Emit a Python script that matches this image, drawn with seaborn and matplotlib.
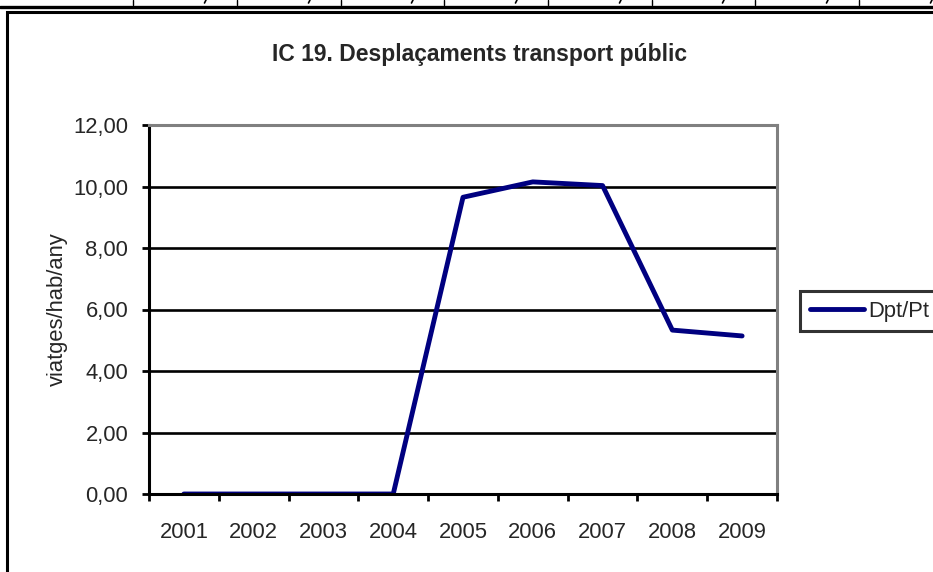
import pandas as pd
import matplotlib
matplotlib.use('Agg')
import matplotlib.pyplot as plt
import seaborn as sns
from matplotlib.ticker import FuncFormatter, FixedLocator
from matplotlib.patches import Rectangle
from matplotlib.lines import Line2D

# ---- data ----
years = ["2001", "2002", "2003", "2004", "2005", "2006", "2007", "2008", "2009"]
dpt_pt = [0.0, 0.0, 0.0, 0.0, 9.65, 10.15, 10.03, 5.33, 5.14]
series_name = "Dpt/Pt"
title = "IC 19. Desplaçaments transport públic"
ylabel = "viatges/hab/any"
yticks = [0, 2, 4, 6, 8, 10, 12]

df = pd.DataFrame({"year": years, "value": dpt_pt, "serie": series_name})

sns.set_style("white")
plt.rcParams['font.family'] = ['Liberation Sans', 'DejaVu Sans']

W, H = 933, 572
fs = 15.8
fig = plt.figure(figsize=(W / 100, H / 100), dpi=100)

# plot area in pixels
left, right, top, bottom = 149, 777, 125, 494
ax = fig.add_axes([left / W, 1 - bottom / H, (right - left) / W, (bottom - top) / H])

navy = "#000080"
sns.lineplot(data=df, x="year", y="value", hue="serie", palette=[navy],
             linewidth=3.5, ax=ax, sort=False, legend=False)

ax.set_xlim(-0.5, len(years) - 0.5)
ax.set_ylim(0, 12)
ax.set_yticks(yticks)
ax.yaxis.set_major_formatter(FuncFormatter(lambda v, p: f"{v:.2f}".replace(".", ",")))
ax.grid(axis="y", color="black", linewidth=1.9)
ax.grid(axis="x", visible=False)

# category ticks between labels, like excel
ax.set_xticks(range(len(years)))
ax.set_xticklabels(years)
ax.xaxis.set_minor_locator(FixedLocator([i - 0.5 for i in range(len(years) + 1)]))
ax.tick_params(axis="x", which="major", length=0, pad=20, labelsize=fs)
ax.tick_params(axis="x", which="minor", length=5, width=2, color="black", direction="out")
ax.tick_params(axis="y", length=5, width=2, color="black", direction="out", pad=10, labelsize=fs)
ax.tick_params(bottom=True, left=True, which="both")

for s in ["left", "bottom"]:
    ax.spines[s].set_color("black")
    ax.spines[s].set_linewidth(2.2)
for s in ["top", "right"]:
    ax.spines[s].set_color("#808080")
    ax.spines[s].set_linewidth(2.2)
ax.spines["bottom"].set_zorder(3)

ax.set_xlabel("")
ax.set_ylabel(ylabel, fontsize=fs, labelpad=4)

fig.text(480 / W, 1 - 55 / H, title, ha="center", va="center",
         fontsize=16.5, fontweight="bold")

# legend
handle = Line2D([], [], color=navy, linewidth=3.5)
leg = fig.legend([handle], [series_name], loc="center left",
                 bbox_to_anchor=(800 / W, 1 - 311 / H), frameon=True,
                 fancybox=False, fontsize=fs, handlelength=2.45,
                 handletextpad=0.2, borderpad=0.45, borderaxespad=0)
leg.get_frame().set_edgecolor("black")
leg.get_frame().set_linewidth(2.2)

# chart frame and spreadsheet row above it
fig.patches.append(Rectangle((7 / W, -0.05), 1.0, 1 - 12 / H + 0.05,
                             transform=fig.transFigure, fill=False,
                             edgecolor="black", linewidth=2.2))
fig.lines.append(Line2D([0, 1], [1 - 6.5 / H, 1 - 6.5 / H], transform=fig.transFigure,
                        color="black", linewidth=2.4))
cell_edges = [133, 237, 341, 444, 548, 652, 755, 859, 963]
for i, x in enumerate(cell_edges):
    fig.lines.append(Line2D([x / W, x / W], [1 - 5 / H, 1.0], transform=fig.transFigure,
                            color="black", linewidth=1))
    if i == 0:
        continue
    # comma tails of the cut-off cell values
    cx = x - 31
    fig.lines.append(Line2D([cx / W, (cx - 1.5) / W], [1.0, 1 - 3 / H],
                            transform=fig.transFigure, color="black", linewidth=1.2))

plt.savefig("out.png", dpi=100)
